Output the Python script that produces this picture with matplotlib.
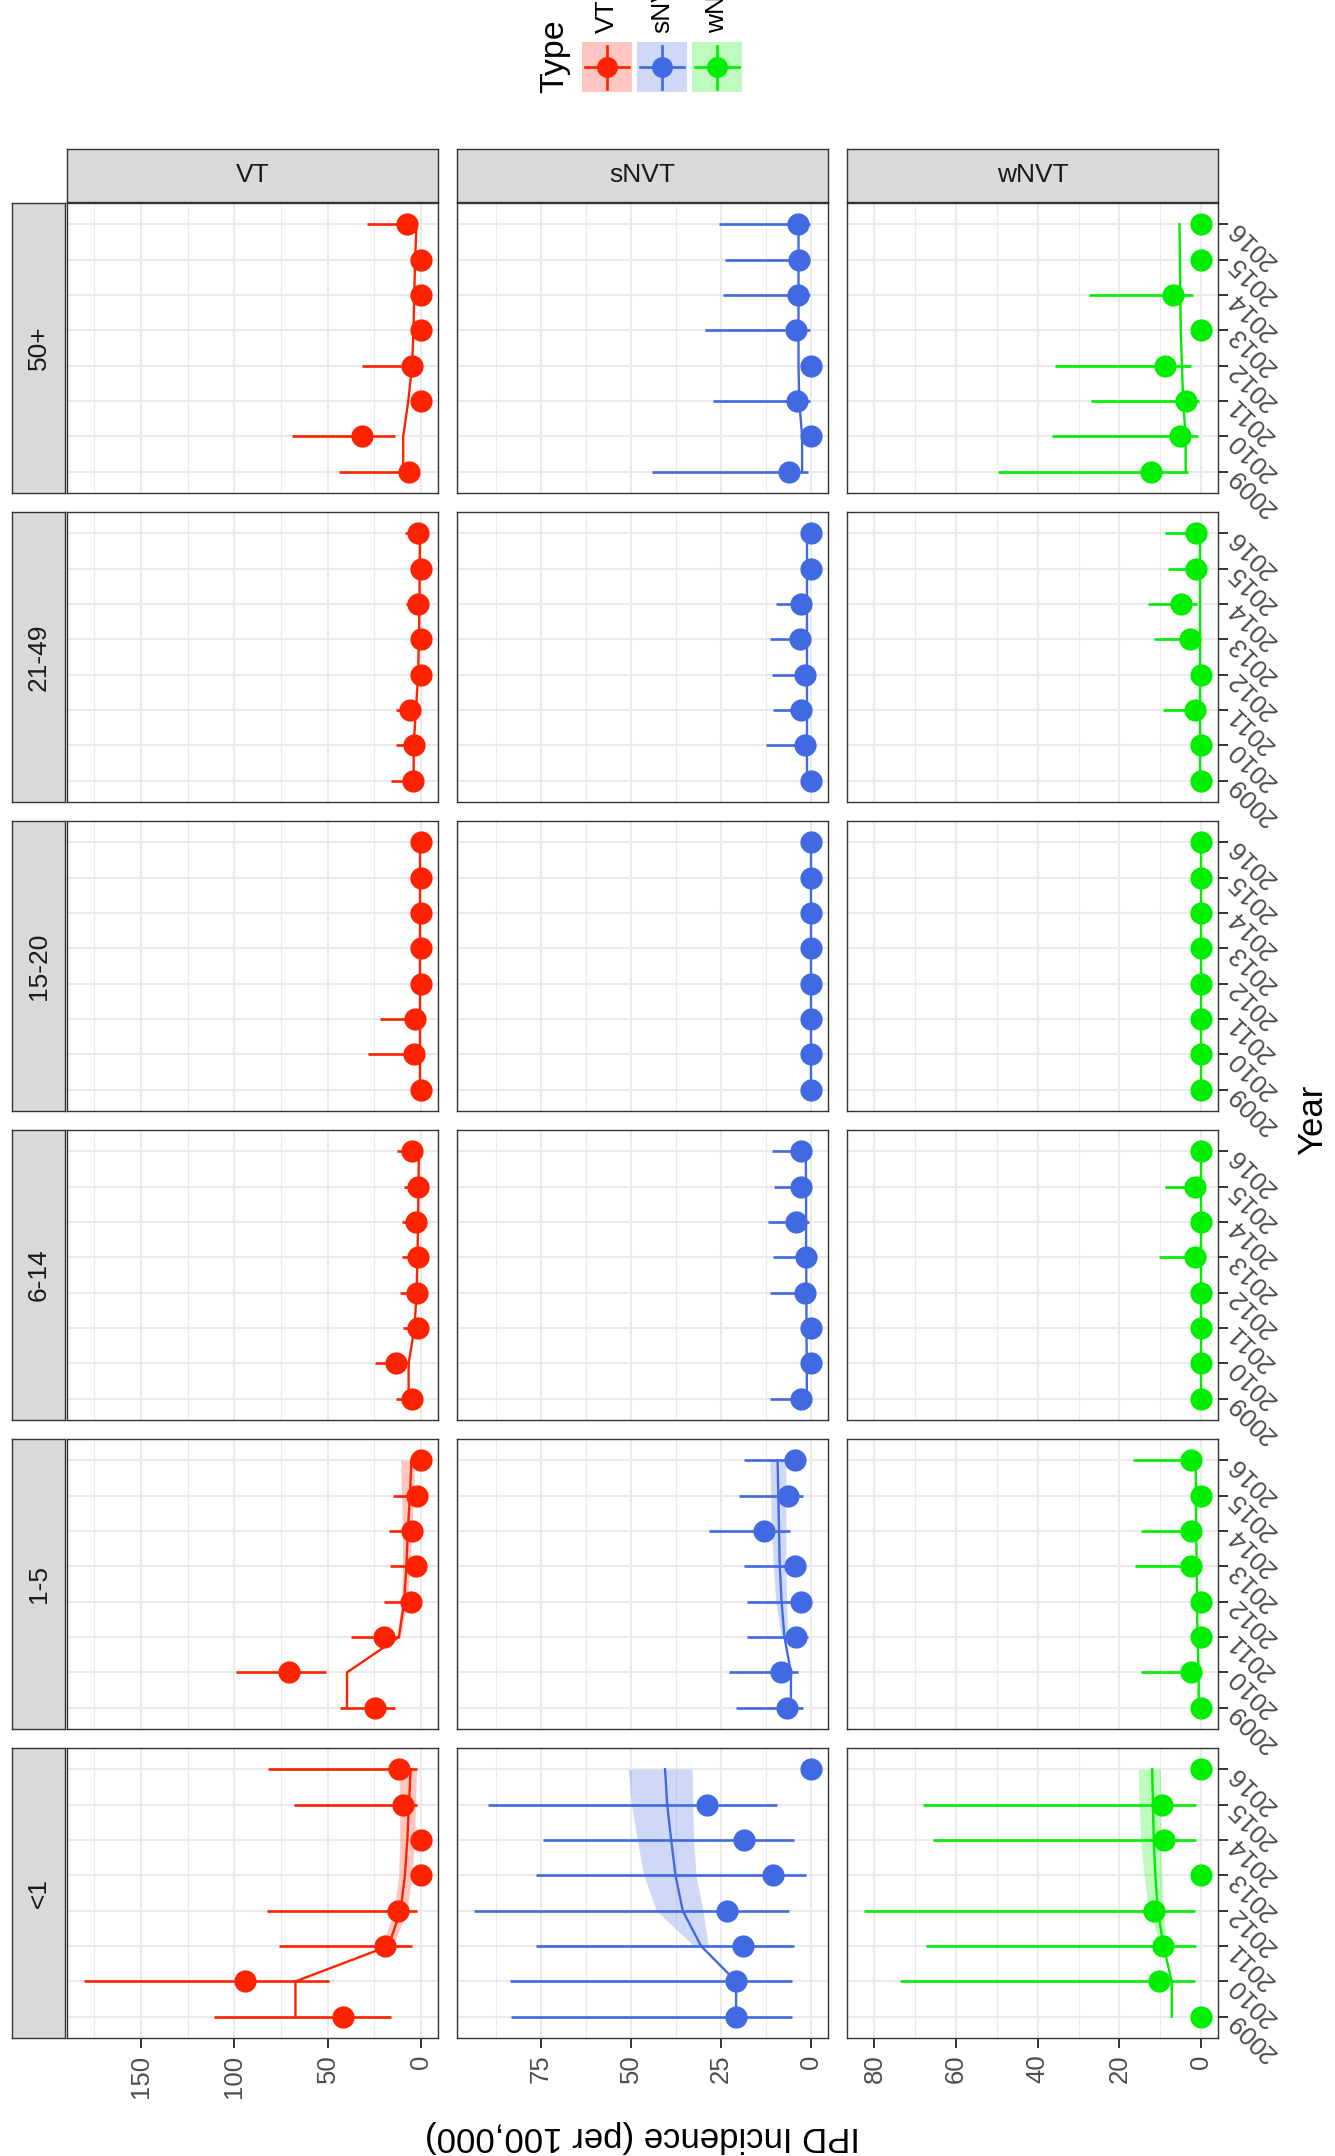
import matplotlib
matplotlib.use("Agg")
import matplotlib.pyplot as plt
from matplotlib.colors import to_rgba
from matplotlib.ticker import MultipleLocator
import numpy as np

plt.rcParams['font.family'] = ['Liberation Sans', 'DejaVu Sans']

nan = np.nan
years = [2009, 2010, 2011, 2012, 2013, 2014, 2015, 2016]
rib_years = [2011, 2012, 2013, 2014, 2015, 2016]
ages = ["<1", "1-5", "6-14", "15-20", "21-49", "50+"]
types = ["VT", "sNVT", "wNVT"]
colors = {"VT": "#FF2200", "sNVT": "#4169E1", "wNVT": "#00EE00"}

# observed incidence, 95% CI and fitted trend (per 100,000), 2009..2016
vt_inc = {
    "<1":    [42.0, 94.3, 19.3, 12.2, 0, 0, 9.6, 11.9],
    "1-5":   [24.6, 71.0, 19.9, 5.2, 2.8, 4.8, 2.0, 0],
    "6-14":  [4.8, 13.5, 1.6, 2.0, 1.6, 2.8, 1.6, 4.8],
    "15-20": [0, 4.0, 3.2, 0, 0, 0, 0, 0],
    "21-49": [4.4, 4.0, 6.0, 0, 0, 1.6, 0, 1.6],
    "50+":   [6.5, 31.4, 0, 4.8, 0, 0, 0, 7.4],
}
vt_lo = {
    "<1":    [16.0, 49.5, 5.1, 2.1, nan, nan, 2.1, 2.1],
    "1-5":   [13.9, 50.8, 12.0, 0.8, 0.3, 0.8, 0.2, nan],
    "6-14":  [0.5, 6.7, 0.1, 0.2, 0.1, 0.3, 0.1, 0.5],
    "15-20": [nan, 0.5, 0.3, nan, nan, nan, nan, nan],
    "21-49": [0.5, 0.4, 1.2, nan, nan, 0.1, nan, 0.1],
    "50+":   [1.0, 14.2, nan, 0.5, nan, nan, nan, 2.0],
}
vt_hi = {
    "<1":    [110.8, 180.6, 76.1, 82.8, nan, nan, 68.2, 82.2],
    "1-5":   [43.7, 99.2, 37.7, 19.9, 16.7, 17.0, 15.0, nan],
    "6-14":  [13.5, 24.6, 9.5, 11.5, 10.3, 10.3, 9.1, 12.7],
    "15-20": [nan, 28.6, 21.8, nan, nan, nan, nan, nan],
    "21-49": [16.3, 13.5, 13.5, nan, nan, 7.9, nan, 8.7],
    "50+":   [44.1, 68.9, nan, 31.9, nan, nan, nan, 29.0],
}
vt_fit = {
    "<1":    [67.3, 67.3, 17.5, 11.0, 8.7, 7.4, 6.5, 5.6],
    "1-5":   [39.7, 39.7, 11.9, 9.1, 7.9, 7.1, 6.0, 5.2],
    "6-14":  [6.7, 6.7, 3.6, 2.4, 2.0, 1.6, 1.4, 1.2],
    "15-20": [0.4, 0.4, 0.4, 0.4, 0.4, 0.4, 0.4, 0.4],
    "21-49": [4.0, 4.0, 2.8, 1.6, 1.2, 0.9, 0.8, 0.6],
    "50+":   [9.6, 9.6, 6.9, 4.8, 4.1, 3.7, 3.2, 2.5],
}
vt_rib_lo = {"<1": [15, 7.5, 5, 3.5, 3, 2.5], "1-5": [11, 7.5, 6, 5, 4, 3.5]}
vt_rib_hi = {"<1": [21, 14.5, 12, 11.5, 11.5, 12], "1-5": [13, 10.5, 10, 10, 10.5, 11]}

snvt_inc = {
    "<1":    [20.8, 20.8, 19.0, 23.4, 10.7, 18.6, 28.9, 0],
    "1-5":   [6.6, 8.4, 4.3, 2.7, 4.5, 13.0, 6.4, 4.5],
    "6-14":  [2.9, 0, 0, 1.6, 1.4, 4.1, 2.7, 2.9],
    "15-20": [0, 0, 0, 0, 0, 0, 0, 0],
    "21-49": [0, 1.6, 2.7, 1.6, 3.1, 2.7, 0, 0],
    "50+":   [6.2, 0, 3.9, 0, 4.3, 3.7, 3.5, 3.7],
}
snvt_lo = {
    "<1":    [5.4, 5.4, 4.8, 6.0, 1.5, 4.8, 9.4, nan],
    "1-5":   [2.3, 3.7, 1.0, 0.5, 1.6, 5.8, 2.3, 1.6],
    "6-14":  [0.3, nan, nan, 0.1, 0.1, 0.5, 0.3, 0.3],
    "15-20": [nan] * 8,
    "21-49": [nan, 0.1, 0.3, 0.1, 0.4, 0.3, nan, nan],
    "50+":   [1.0, nan, 0.4, nan, 0.4, 0.3, 0.3, 0.3],
}
snvt_hi = {
    "<1":    [83.3, 83.6, 76.2, 93.5, 76.4, 74.3, 89.5, nan],
    "1-5":   [20.8, 22.9, 17.7, 17.9, 18.7, 28.4, 20.0, 18.7],
    "6-14":  [11.5, nan, nan, 11.3, 10.5, 11.9, 10.3, 10.9],
    "15-20": [nan] * 8,
    "21-49": [nan, 12.6, 10.7, 10.9, 11.5, 9.7, nan, nan],
    "50+":   [44.1, nan, 27.2, nan, 29.3, 24.5, 23.9, 25.5],
}
snvt_fit = {
    "<1":    [20.8, 20.8, 30.5, 35.6, 37.6, 38.8, 39.9, 40.5],
    "1-5":   [5.6, 5.6, 7.4, 8.2, 8.7, 8.9, 9.1, 9.3],
    "6-14":  [1.2, 1.2, 1.3, 1.3, 1.4, 1.4, 1.4, 1.5],
    "15-20": [0, 0, 0, 0, 0, 0, 0, 0],
    "21-49": [1.1, 1.1, 1.1, 1.1, 1.1, 1.1, 1.1, 1.1],
    "50+":   [2.5, 2.5, 3.3, 3.5, 3.5, 3.5, 3.5, 3.5],
}
snvt_rib_lo = {"<1": [28.5, 30.0, 31.9, 32.6, 32.8, 33.0], "1-5": [6.5, 6.8, 7.0, 7.0, 7.0, 7.0]}
snvt_rib_hi = {"<1": [32.5, 42.9, 46.4, 48.2, 49.8, 50.7], "1-5": [8.3, 9.8, 10.5, 11.0, 11.2, 11.5]}

wnvt_inc = {
    "<1":    [0, 10.4, 9.4, 11.6, 0, 9.2, 9.6, 0],
    "1-5":   [0, 2.4, 0, 0, 2.4, 2.4, 0, 2.4],
    "6-14":  [0, 0, 0, 0, 1.6, 0, 1.5, 0],
    "15-20": [0, 0, 0, 0, 0, 0, 0, 0],
    "21-49": [0, 0, 1.5, 0, 2.7, 4.9, 1.3, 1.3],
    "50+":   [12.4, 5.1, 3.8, 8.9, 0, 6.9, 0, 0],
}
wnvt_lo = {
    "<1":    [nan, 1.5, 1.3, 1.6, nan, 1.3, 1.3, nan],
    "1-5":   [nan, 0.3, nan, nan, 0.3, 0.3, nan, 0.3],
    "6-14":  [nan, nan, nan, nan, 0.1, nan, 0.1, nan],
    "15-20": [nan] * 8,
    "21-49": [nan, nan, 0.1, nan, 0.3, 1.0, 0.1, 0.1],
    "50+":   [3.3, 0.7, 0.5, 2.4, nan, 2.0, nan, nan],
}
wnvt_hi = {
    "<1":    [nan, 73.8, 67.3, 82.6, nan, 65.7, 68.0, nan],
    "1-5":   [nan, 14.7, nan, nan, 16.2, 14.7, nan, 16.6],
    "6-14":  [nan, nan, nan, nan, 10.4, nan, 8.9, nan],
    "15-20": [nan] * 8,
    "21-49": [nan, nan, 9.3, nan, 11.5, 12.9, 8.0, 8.9],
    "50+":   [49.7, 36.6, 26.9, 35.7, nan, 27.5, nan, nan],
}
wnvt_fit = {
    "<1":    [7.2, 7.2, 9.2, 10.6, 11.2, 11.6, 11.8, 12.0],
    "1-5":   [0.6, 0.6, 0.9, 1.0, 1.1, 1.2, 1.3, 1.3],
    "6-14":  [0.1, 0.1, 0.1, 0.1, 0.1, 0.1, 0.1, 0.1],
    "15-20": [0, 0, 0, 0, 0, 0, 0, 0],
    "21-49": [0.3, 0.3, 0.3, 0.3, 0.3, 0.3, 0.3, 0.3],
    "50+":   [3.8, 3.8, 4.4, 4.7, 5.0, 5.1, 5.2, 5.3],
}
wnvt_rib_lo = {"<1": [8.6, 9.2, 9.6, 9.8, 9.9, 10.0]}
wnvt_rib_hi = {"<1": [9.8, 12.8, 14.0, 14.8, 15.2, 15.4]}

inc = {"VT": vt_inc, "sNVT": snvt_inc, "wNVT": wnvt_inc}
lo = {"VT": vt_lo, "sNVT": snvt_lo, "wNVT": wnvt_lo}
hi = {"VT": vt_hi, "sNVT": snvt_hi, "wNVT": wnvt_hi}
fit = {"VT": vt_fit, "sNVT": snvt_fit, "wNVT": wnvt_fit}
rib_lo = {"VT": vt_rib_lo, "sNVT": snvt_rib_lo, "wNVT": wnvt_rib_lo}
rib_hi = {"VT": vt_rib_hi, "sNVT": snvt_rib_hi, "wNVT": wnvt_rib_hi}
steps = {"VT": 50, "sNVT": 25, "wNVT": 20}

# layout in pixels (figure is 1335 x 2156)
W, H = 1335, 2156
col_x = [67, 457, 847]
pw, ph = 371, 290
top0, row_step = 203, 309
dark = "#333333"


def rect(x, y, w, h):
    return [x / W, 1 - (y + h) / H, w / W, h / H]


def strip(x, y, w, h, label, rot):
    s = fig.add_axes(rect(x, y, w, h))
    s.set_facecolor("#D9D9D9")
    s.set_xticks([])
    s.set_yticks([])
    for sp in s.spines.values():
        sp.set_color(dark)
        sp.set_linewidth(1.0)
    s.text(0.5, 0.5, label, rotation=rot, ha="center", va="center",
           fontsize=19, color="#1A1A1A", transform=s.transAxes)


fig = plt.figure(figsize=(13.35, 21.56), dpi=100)

for j, t in enumerate(types):
    c = colors[t]
    xmax = max(np.nanmax(np.r_[hi[t][a], inc[t][a]]) for a in ages)
    ticks = np.arange(0, xmax * 1.05, steps[t])
    for i, a in enumerate(ages):
        y0 = top0 + (5 - i) * row_step
        ax = fig.add_axes(rect(col_x[j], y0, pw, ph))
        ax.set_axisbelow(True)

        if a in rib_lo[t]:
            ax.fill_betweenx(rib_years, rib_lo[t][a], rib_hi[t][a],
                             color=c, alpha=0.25, lw=0, zorder=1)
        ax.plot(fit[t][a], years, color=c, lw=1.7, zorder=2)
        l = np.array(lo[t][a])
        u = np.array(hi[t][a])
        ok = ~np.isnan(l) & ~np.isnan(u)
        ax.hlines(np.array(years)[ok], l[ok], u[ok], color=c, lw=1.9, zorder=3)
        ax.plot(inc[t][a], years, "o", ms=16, mew=0, color=c, zorder=4)

        ax.set_xlim(xmax * 1.05, -0.05 * xmax)
        ax.set_ylim(2008.4, 2016.6)
        ax.set_xticks(ticks)
        ax.xaxis.set_minor_locator(MultipleLocator(steps[t] / 2))
        ax.set_yticks(years)
        ax.grid(which="major", color="#EBEBEB", lw=1.5)
        ax.grid(which="minor", axis="x", color="#EBEBEB", lw=0.75)
        for sp in ax.spines.values():
            sp.set_color(dark)
            sp.set_linewidth(1.0)

        ax.tick_params(which="both", length=0, labelbottom=False, labelleft=False)
        if i == 0:
            ax.tick_params(axis="x", which="major", bottom=True, length=7, width=1.4,
                           color=dark, labelbottom=True, pad=5)
            ax.set_xticklabels([f"{v:g}" for v in ticks], rotation=90, ha="right",
                               va="center", rotation_mode="anchor",
                               fontsize=18.5, color="#4D4D4D")
        if j == 2:
            ax.yaxis.tick_right()
            ax.tick_params(axis="y", which="major", right=True, length=7, width=1.4,
                           color=dark, labelright=True, pad=3)
            ax.set_yticklabels([str(y) for y in years], rotation=135, ha="right",
                               va="center", rotation_mode="anchor",
                               fontsize=18.5, color="#4D4D4D")

        if j == 0:
            strip(12, y0, 53, ph, a, 90)
    strip(col_x[j], 149, pw, 53, t, 0)

fig.text(642 / W, 1 - 2137 / H, "IPD Incidence (per 100,000)", rotation=180,
         ha="center", va="center", fontsize=25)
fig.text(1313 / W, 1 - 1120 / H, "Year", rotation=90, ha="center", va="center",
         fontsize=25)

# legend
fig.text(555 / W, 1 - 93 / H, "Type", rotation=90, ha="left", va="center",
         rotation_mode="anchor", fontsize=24.5)
for k, t in enumerate(types):
    c = colors[t]
    kx = 582 + k * 55
    kax = fig.add_axes(rect(kx, 42, 50, 50))
    kax.set_facecolor(to_rgba(c, 0.25))
    kax.set_xlim(0, 1)
    kax.set_ylim(0, 1)
    kax.set_xticks([])
    kax.set_yticks([])
    for sp in kax.spines.values():
        sp.set_visible(False)
    kax.plot([0.06, 0.94], [0.5, 0.5], color=c, lw=1.9)
    kax.plot([0.5, 0.5], [0.07, 0.93], color=c, lw=1.9)
    kax.plot([0.5], [0.5], "o", ms=15, mew=0, color=c)
    fig.text((kx + 25) / W, 1 - 33 / H, t, rotation=90, ha="left", va="center",
             rotation_mode="anchor", fontsize=19)

fig.savefig("out.png", dpi=100)
